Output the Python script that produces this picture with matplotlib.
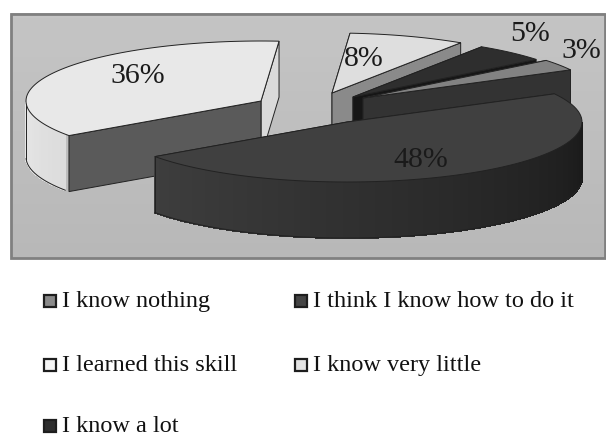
import matplotlib
matplotlib.use("Agg")
import matplotlib.pyplot as plt
from matplotlib.colors import to_rgb
from matplotlib.patches import Polygon, Rectangle
import numpy as np

plt.rcParams["font.family"] = ["Liberation Serif", "DejaVu Serif"]

categories = ["I know nothing", "I think I know how to do it", "I learned this skill",
              "I know very little", "I know a lot"]
values = [3, 48, 36, 8, 5]

# layout of the exploded pie, in pixels of the 606x436 picture
START = 38.8
RX, RY, DEPTH = 235.0, 60.0, 56.0
apex = [(363, 98), (347, 122), (261, 101), (332, 93), (353, 97)]
label_pos = [(581, 51), (421, 160), (138, 76), (364, 59), (530, 34)]
top_col = ["#828282", "#404040", "#e8e8e8", "#dedede", "#2e2e2e"]
side_col = ["#333333", "#3a3a3a", "#dadada", "#8a8a8a", "#161616"]
back_col = ["#333333", "#3a3a3a", "#5a5a5a", "#8a8a8a", "#161616"]
wall_from = ["#555555", "#3e3e3e", "#e6e6e6", "#cccccc", "#222222"]
wall_to = ["#555555", "#1a1a1a", "#dcdcdc", "#cccccc", "#222222"]
draw_order = [2, 3, 4, 0, 1]
legend_pos = [(50, 301), (301, 301), (50, 365), (301, 365), (50, 426)]
legend_col = ["#8a8a8a", "#444444", "#f6f6f6", "#e4e4e4", "#2e2e2e"]

fig = plt.figure(figsize=(6.06, 4.36), dpi=100, facecolor="white")
ax = fig.add_axes([0, 0, 1, 1])
ax.set_xlim(0, 606)
ax.set_ylim(436, 0)
ax.axis("off")

# panel behind the pie
grad = np.linspace(0.77, 0.72, 50).reshape(-1, 1)
ax.imshow(grad, cmap="gray", vmin=0, vmax=1, extent=(11, 605, 258, 14), aspect="auto", zorder=0)
ax.add_patch(Rectangle((11, 14), 594, 244, fill=False, ec="#808080", lw=2, zorder=1))


def pt(c, t):
    return c[0] + RX * np.cos(np.radians(t)), c[1] - RY * np.sin(np.radians(t))


# slice angles come from the values, clockwise from START
edges = START - np.cumsum([0] + values) * 3.6
z = 2
for i in draw_order:
    c = apex[i]
    t0, t1 = edges[i], edges[i + 1]
    a, b = pt(c, t0), pt(c, t1)
    # flat cut faces, the one nearer the viewer goes last
    faces = sorted([(a, back_col[i]), (b, side_col[i])], key=lambda f: f[0][1])
    for p, col in faces:
        face = [c, p, (p[0], p[1] + DEPTH), (c[0], c[1] + DEPTH)]
        ax.add_patch(Polygon(face, fc=col, ec="#222222", lw=0.7, zorder=z))
    z += 1
    # curved outer wall, only the part turned to the viewer
    wall = np.arange(t1, t0 + 0.01, 2.0)
    wall = wall[np.sin(np.radians(wall)) <= 0.001]
    if len(wall) > 1:
        ca, cb = np.array(to_rgb(wall_from[i])), np.array(to_rgb(wall_to[i]))
        for n in range(len(wall) - 1):
            p, q = pt(c, wall[n]), pt(c, wall[n + 1])
            f = n / (len(wall) - 2) if len(wall) > 2 else 0
            col = ca + (cb - ca) * f
            ax.add_patch(Polygon([p, q, (q[0], q[1] + DEPTH), (p[0], p[1] + DEPTH)],
                                 fc=col, ec=col, lw=0.8, antialiased=False, zorder=z))
        xs, ys = zip(*[pt(c, w) for w in wall])
        ax.plot(xs, np.array(ys) + DEPTH, color="#222222", lw=0.7, zorder=z)
        ax.plot([xs[0], xs[0]], [ys[0], ys[0] + DEPTH], color="#222222", lw=0.7, zorder=z)
    z += 1
    # top of the slice
    arc = [pt(c, t) for t in np.linspace(t0, t1, 80)]
    ax.add_patch(Polygon([c] + arc, fc=top_col[i], ec="#222222", lw=0.7, zorder=z))
    z += 1

for i in range(len(values)):
    ax.text(label_pos[i][0], label_pos[i][1], f"{values[i]}%", fontsize=21.5, color="#1a1a1a",
            ha="center", va="center", zorder=30)

for i in range(len(categories)):
    x, y = legend_pos[i]
    ax.add_patch(Rectangle((x - 6, y - 6), 12, 12, fc=legend_col[i], ec="#1e1e1e", lw=1.6, zorder=5))
    ax.text(x + 12, y + 6, categories[i], fontsize=17.5, color="#111111", ha="left", va="baseline")

fig.savefig("out.png", dpi=100, facecolor="white")
